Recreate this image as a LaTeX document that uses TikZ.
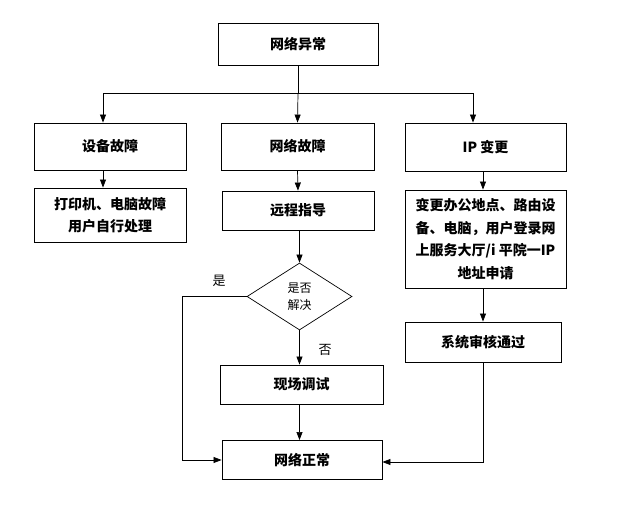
\documentclass[tikz,border=0pt]{standalone}
\usepackage{fontspec}
\newfontfamily\cjk{Noto Sans CJK SC}
\usetikzlibrary{shapes.geometric,arrows.meta,calc}
\begin{document}
\begin{tikzpicture}[x=1pt,y=-1pt,
  box/.style={draw, line width=0.9pt, inner sep=0pt, align=center,
    font=\cjk\bfseries\fontsize{14}{22.5}\selectfont},
  arr/.style={line width=0.7pt, -{Triangle[length=8pt,width=6pt]}},
  ln/.style={line width=0.7pt},
  lbl/.style={font=\cjk\fontsize{13}{15}\selectfont}]
\useasboundingbox (0,0) rectangle (619,518);
\node[box, minimum width=160pt, minimum height=42pt] (top) at (298,44) {网络异常};
\node[box, minimum width=152pt, minimum height=47pt] (sb) at (110,146.5) {设备故障};
\node[box, minimum width=153pt, minimum height=47pt] (wl) at (297.5,146.5) {网络故障};
\node[box, minimum width=161pt, minimum height=48pt] (ip) at (485.5,147) {IP 变更};
\node[box, minimum width=152pt, minimum height=54pt] (dy) at (110,215) {打印机、电脑故障\\用户自行处理};
\node[box, minimum width=152pt, minimum height=39pt] (yc) at (298,210.5) {远程指导};
\node[box, minimum width=161pt, minimum height=98pt] (ipb) at (485.5,239) {变更办公地点、路由设\\备、电脑，用户登录网\\上服务大厅/i 平院一IP\\地址申请};
\node[draw, diamond, line width=0.7pt, minimum width=105pt, minimum height=67pt, inner sep=0pt, align=center,
  font=\cjk\fontsize{12}{17}\selectfont] (dm) at (299.5,296.5) {是否\\解决};
\node[box, minimum width=163pt, minimum height=39pt] (xc) at (301.5,384.5) {现场调试};
\node[box, minimum width=160pt, minimum height=39pt] (ok) at (302,460) {网络正常};
\node[box, minimum width=156pt, minimum height=40pt] (sh) at (483,342) {系统审核通过};
\node[lbl] (yes) at (219,281) {是};
\node[lbl] (no) at (325,350) {否};
\coordinate (j) at (298,93.5);
\coordinate (jl) at (103,93.5);
\coordinate (jr) at (473,93.5);
\coordinate (xl) at (103,0);
\coordinate (xr) at (483,0);
\coordinate (xd) at (182,0);
\coordinate (okr) at ($(ok.east)+(0,2)$);
\draw[ln] (top.south) -- (j);
\draw[ln] (jl) -- (jr);
\draw[arr] (j) -- (wl.north);
\draw[arr] (jl) -- (sb.north -| jl);
\draw[arr] (jr) -- (ip.north -| jr);
\draw[arr] (sb.south -| xl) -- (dy.north -| xl);
\draw[arr] (wl.south) -- (yc.north);
\draw[arr] (ip.south -| xr) -- (ipb.north -| xr);
\draw[arr] (yc.south -| dm.north) -- (dm.north);
\draw[arr] (dm.south) -- (xc.north -| dm.south);
\draw[arr] (xc.south -| dm.south) -- (ok.north -| dm.south);
\draw[arr] (ipb.south -| xr) -- (sh.north -| xr);
\draw[arr] (sh.south -| xr) |- (okr);
\draw[arr] (dm.west) -| (ok.west -| xd) -- (ok.west);
\end{tikzpicture}
\end{document}
